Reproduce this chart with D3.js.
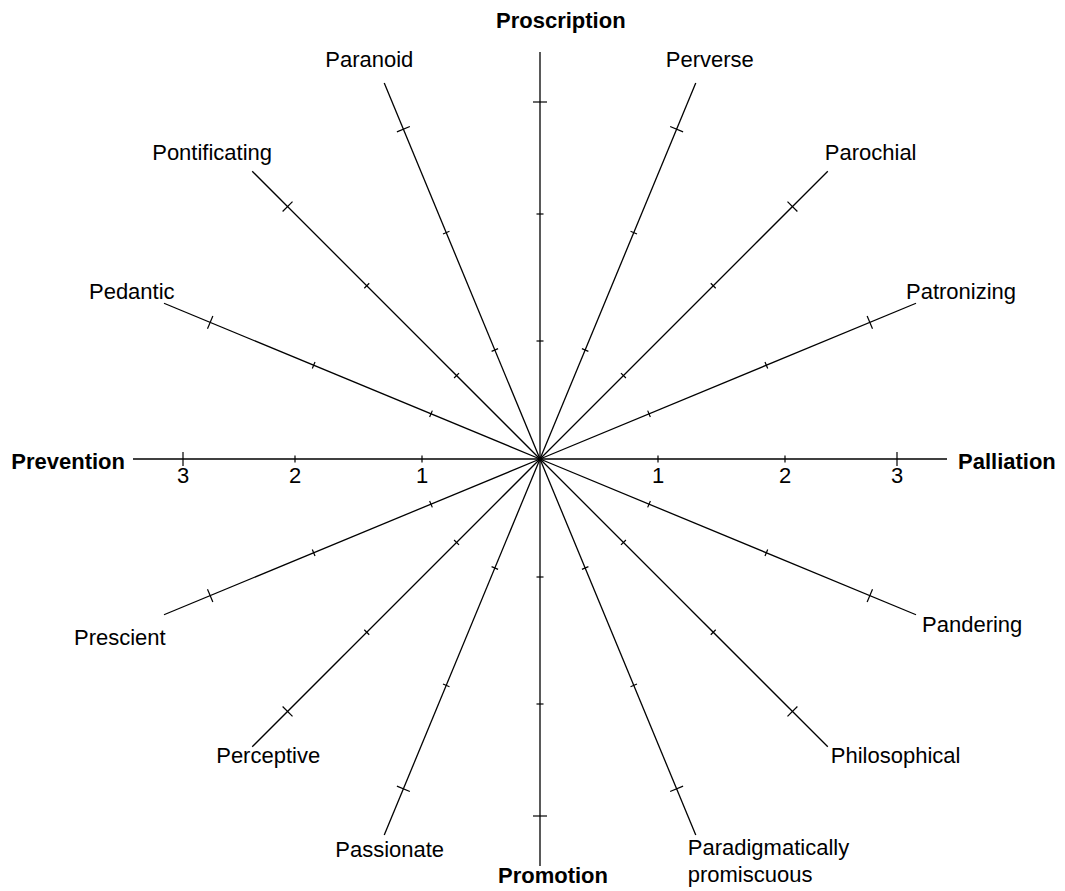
<!DOCTYPE html>
<html>
<head>
<meta charset="utf-8">
<script src="https://cdn.jsdelivr.net/npm/d3@7"></script>
<style>
  body { margin: 0; background: white; }
  svg text { font-family: "Liberation Sans", Arial, sans-serif; font-size: 22px; fill: black; }
</style>
</head>
<body>
<div id="chart"></div>
<script>
// Spokes, counter-clockwise from east, every 22.5 degrees
const spokeNames = ["Palliation", "Patronizing", "Parochial", "Perverse",
                    "Proscription", "Paranoid", "Pontificating", "Pedantic",
                    "Prevention", "Prescient", "Perceptive", "Passionate",
                    "Promotion", "Paradigmatically\npromiscuous", "Philosophical", "Pandering"];
const mainAxes = ["Palliation", "Proscription", "Prevention", "Promotion"];
const tickValues = [1, 2, 3];
const axisMax = 3.45;
const axisLabelTicks = ["1", "2", "3"];

// label offsets from spoke end (dx, dy, anchor) - placed by eye
const labelOffsets = [
  [11, 10, "start"], [-10, -4, "start"], [-3, -11, "start"], [-30, -16, "start"],
  [-44, -24, "start"], [-59, -16, "start"], [-100, -11, "start"], [-75, -4, "start"],
  [-8, 10, "end"], [-90, 30, "start"], [-36, 16, "start"], [-49, 22, "start"],
  [-42, 17, "start"], [-8, 20, "start"], [3, 16, "start"], [6, 17, "start"]
];

const width = 1065, height = 891;
const cx = 540, cy = 459;

const svg = d3.select("#chart").append("svg")
    .attr("width", width).attr("height", height);

// radius scale, ticks are not quite evenly spaced in the original
const r = d3.scaleLinear()
    .domain([0, 1, 2, 3, axisMax])
    .range([0, 118, 245, 357, 407]);

const angle = d3.scaleLinear()
    .domain([0, spokeNames.length])
    .range([0, 2 * Math.PI]);

function pt(i, v) {
  const a = angle(i);
  return [cx + r(v) * Math.cos(a), cy - r(v) * Math.sin(a)];
}

const g = svg.append("g");

spokeNames.forEach((name, i) => {
  const end = pt(i, axisMax);
  g.append("line")
    .attr("x1", cx).attr("y1", cy)
    .attr("x2", end[0]).attr("y2", end[1])
    .attr("stroke", "black").attr("stroke-width", 1.3);

  // ticks perpendicular to the spoke
  const a = angle(i);
  const px = Math.sin(a), py = Math.cos(a);
  tickValues.forEach(v => {
    const p = pt(i, v);
    const h = v == 3 ? 7 : 3.5;
    g.append("line")
      .attr("x1", p[0] - px * h).attr("y1", p[1] - py * h)
      .attr("x2", p[0] + px * h).attr("y2", p[1] + py * h)
      .attr("stroke", "black").attr("stroke-width", 1.2);
  });

  // label
  const off = labelOffsets[i];
  const t = g.append("text")
    .attr("x", end[0] + off[0]).attr("y", end[1] + off[1])
    .attr("text-anchor", off[2])
    .style("font-weight", mainAxes.includes(name) ? "bold" : "normal");
  name.split("\n").forEach((line, k) => {
    t.append("tspan")
      .attr("x", end[0] + off[0])
      .attr("dy", k == 0 ? 0 : 27)
      .text(line);
  });
});

// numbers under the horizontal axis (both sides)
[0, 8].forEach(i => {
  tickValues.forEach((v, k) => {
    const p = pt(i, v);
    g.append("text")
      .attr("x", p[0]).attr("y", cy + 24)
      .attr("text-anchor", "middle")
      .text(axisLabelTicks[k]);
  });
});

// little dot in the middle where everything meets
g.append("circle").attr("cx", cx).attr("cy", cy).attr("r", 2.5).attr("fill", "black");
</script>
</body>
</html>
